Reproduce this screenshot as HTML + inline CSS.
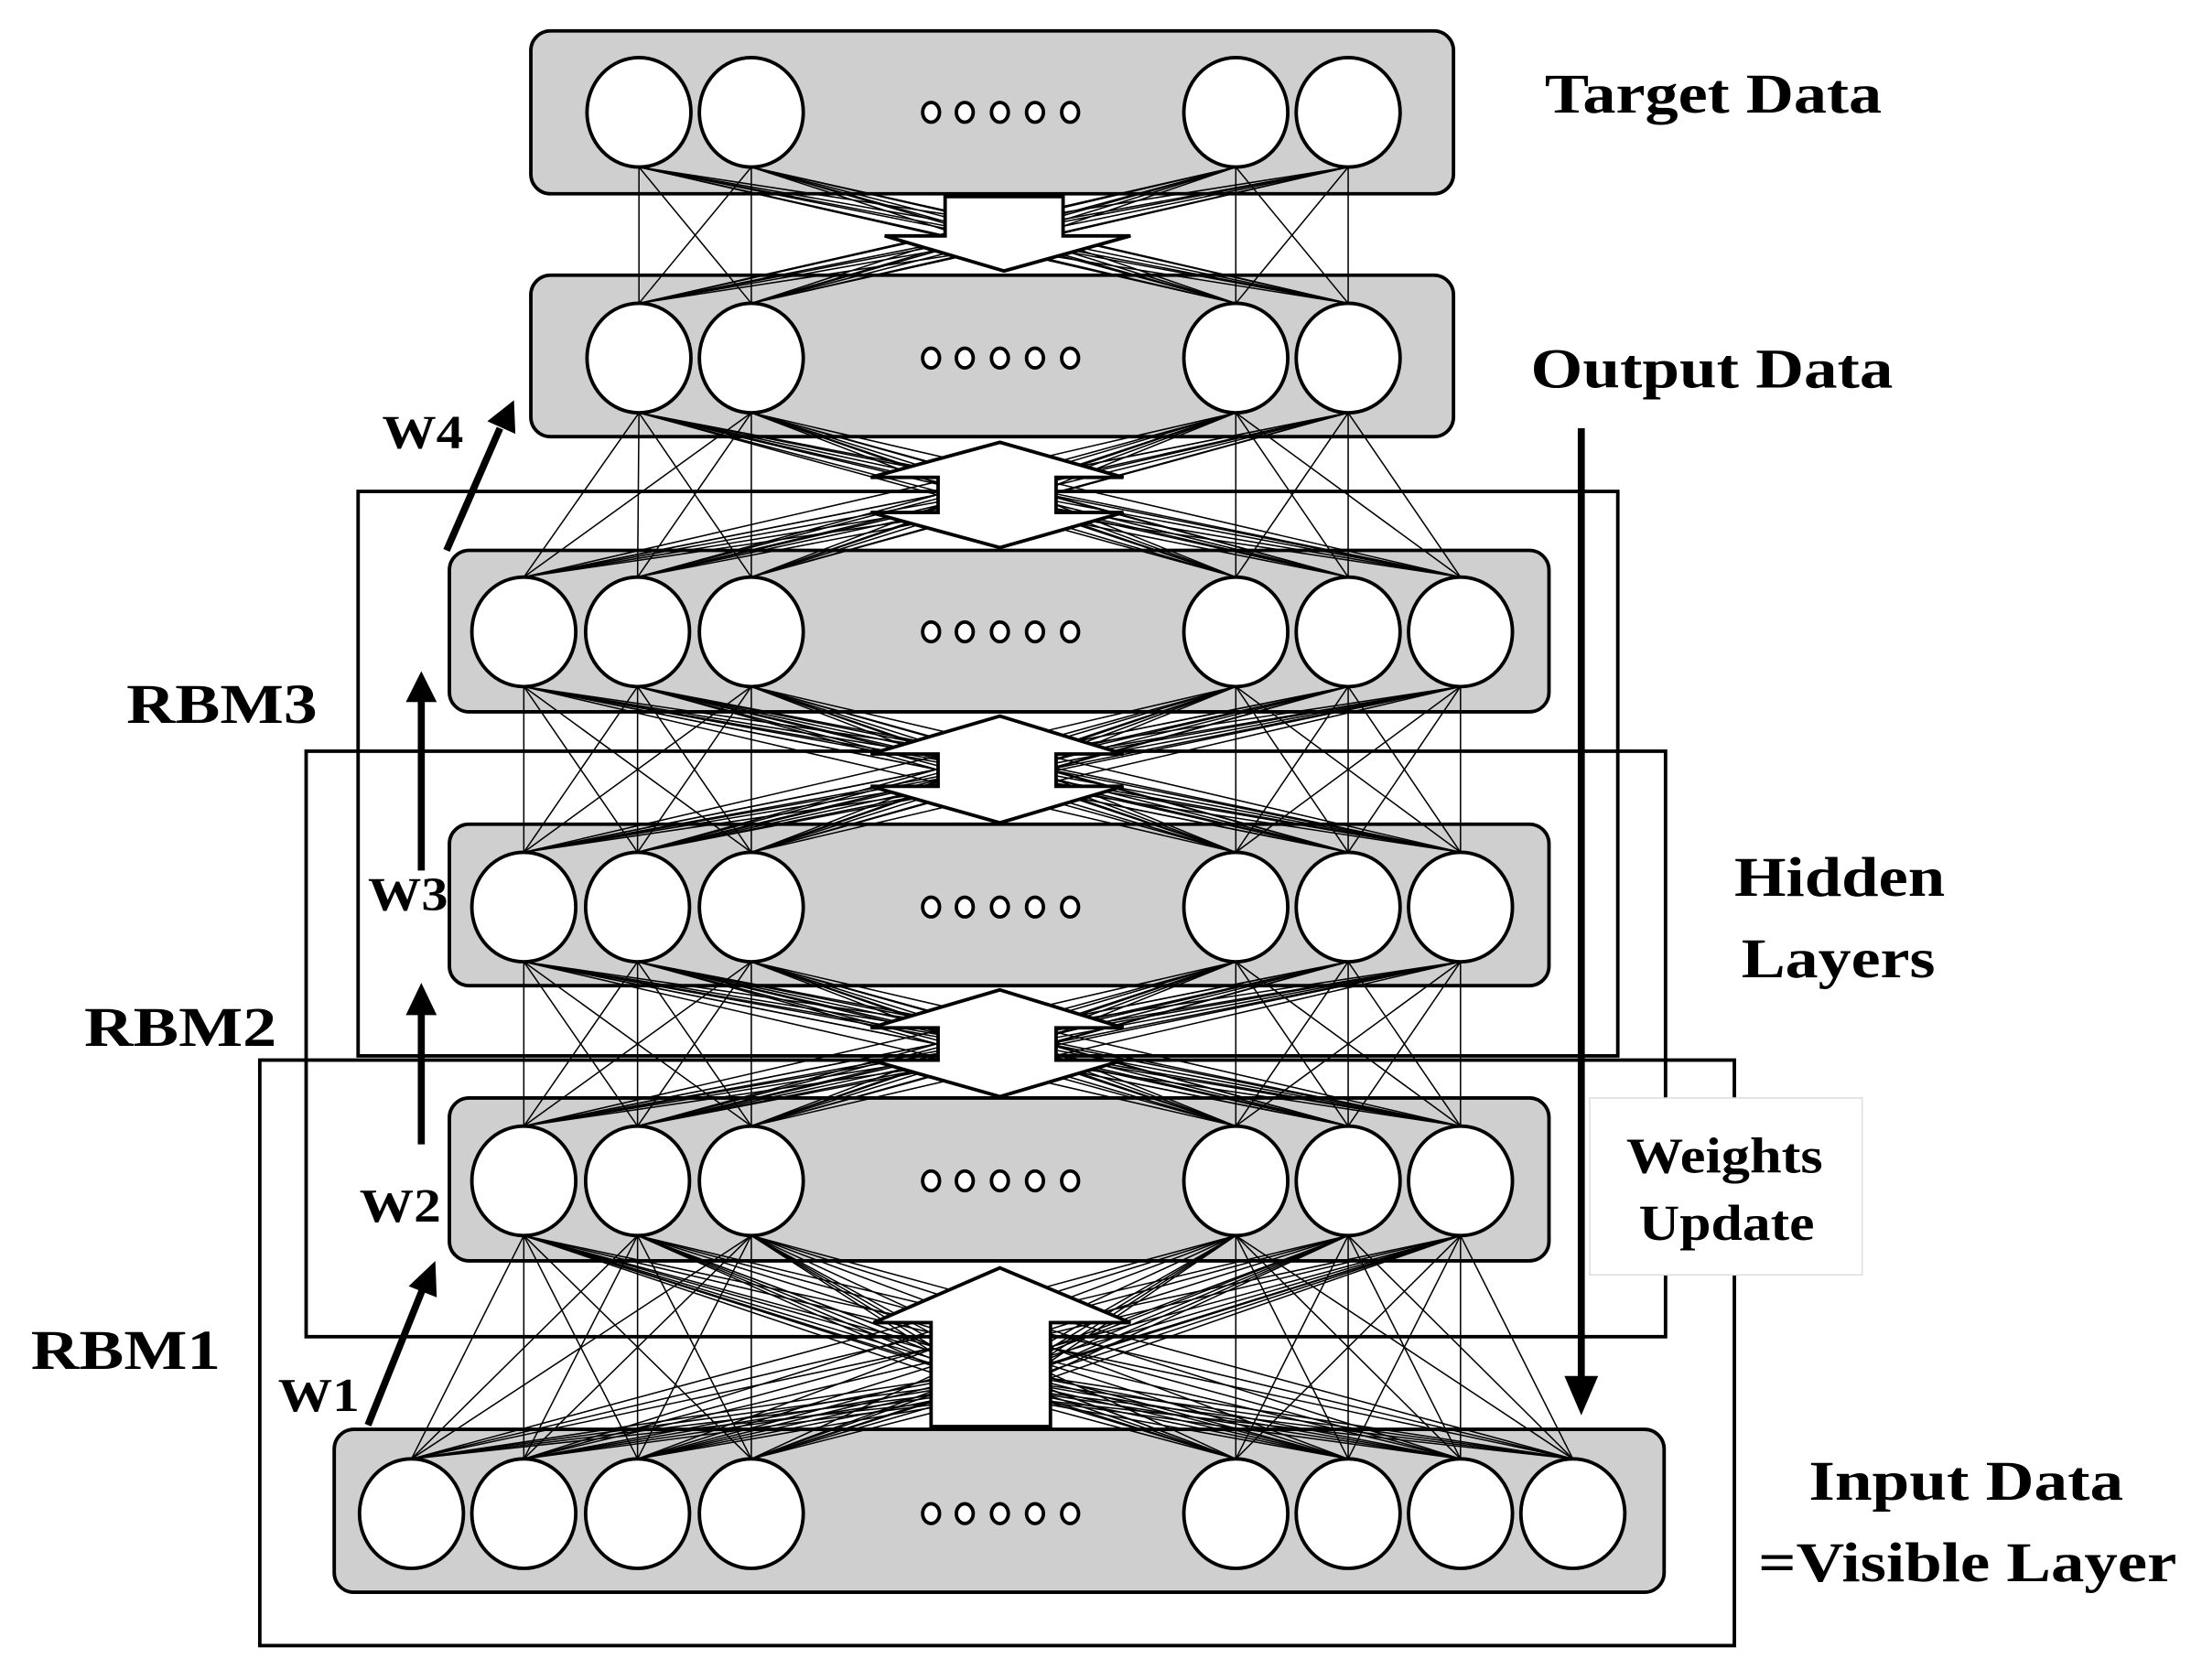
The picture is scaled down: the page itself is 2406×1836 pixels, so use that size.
<!DOCTYPE html>
<html><head><meta charset="utf-8"><style>
html,body{margin:0;padding:0;background:#fff;width:2406px;height:1836px;overflow:hidden}
svg{display:block}
text{font-family:"Liberation Serif",serif;font-weight:bold;fill:#000}
</style></head><body>
<svg id="s" width="2406" height="1836" viewBox="0 0 1568 1196.5" preserveAspectRatio="none" xmlns="http://www.w3.org/2000/svg">
<g id="boxes" fill="#d0cfd0" stroke="#000" stroke-width="2.5">
<rect x="378" y="22" width="657" height="116" rx="14"/>
<rect x="378" y="196" width="657" height="115" rx="14"/>
<rect x="320" y="392" width="783" height="115" rx="14"/>
<rect x="320" y="587" width="783" height="115" rx="14"/>
<rect x="320" y="782" width="783" height="116" rx="14"/>
<rect x="238" y="1018" width="947" height="116" rx="14"/>
</g>
<g id="lines" stroke="#000" stroke-width="1"></g>
<g fill="none" stroke="#000" stroke-width="2.5">
<rect x="255" y="350" width="897" height="402"/>
<rect x="218" y="535" width="968" height="417"/>
<rect x="185" y="755" width="1050" height="417"/>
</g>
<g fill="#fff" stroke="#000" stroke-width="2.5" stroke-linejoin="miter">
<polygon points="673,140 757,140 757,168 805,168 715,193 630,168 673,168"/>
<polygon points="712,315 800,340 752,340 752,365 800,365 712,390 620,365 668,365 668,340 620,340"/>
<polygon points="712,510 800,537 752,537 752,560 800,560 712,586 620,560 668,560 668,537 620,537"/>
<polygon points="712,705 800,732 752,732 752,755 800,755 712,781 620,755 668,755 668,732 620,732"/>
<polygon points="712,903 805,942 748,942 748,1016 663,1016 663,942 622,942"/>
</g>
<g id="nodes" fill="#fff" stroke="#000" stroke-width="2.5"></g>
<rect x="1132" y="782" width="194" height="126" fill="#fff" stroke="#ddd" stroke-width="1"/>
<g stroke="#000" stroke-width="5" fill="#000">
<line x1="1126" y1="305" x2="1126" y2="985"/>
<polygon points="1114,980 1138,980 1126,1008" stroke="none"/>
<line x1="318" y1="392" x2="356" y2="305"/>
<polygon points="347,300 366,285 367,309" stroke="none"/>
<line x1="300" y1="620" x2="300" y2="495"/>
<polygon points="289,500 311,500 300,478" stroke="none"/>
<line x1="300" y1="815" x2="300" y2="718"/>
<polygon points="289,723 311,723 300,700" stroke="none"/>
<line x1="262" y1="1015" x2="301" y2="918"/>
<polygon points="291,916 311,924 310,898" stroke="none"/>
</g>
<g font-size="40">
<text x="1100" y="80" textLength="240" lengthAdjust="spacingAndGlyphs">Target Data</text>
<text x="1090" y="276" textLength="258" lengthAdjust="spacingAndGlyphs">Output Data</text>
<text x="1235" y="638" textLength="150" lengthAdjust="spacingAndGlyphs">Hidden</text>
<text x="1240" y="696" textLength="138" lengthAdjust="spacingAndGlyphs">Layers</text>
<text x="1288" y="1068" textLength="224" lengthAdjust="spacingAndGlyphs">Input Data</text>
<text x="1252" y="1126" textLength="298" lengthAdjust="spacingAndGlyphs">=Visible Layer</text>
<text x="90" y="515" textLength="136" lengthAdjust="spacingAndGlyphs">RBM3</text>
<text x="60" y="745" textLength="137" lengthAdjust="spacingAndGlyphs">RBM2</text>
<text x="22" y="975" textLength="135" lengthAdjust="spacingAndGlyphs">RBM1</text>
</g>
<text x="1158" y="835" font-size="36" textLength="140" lengthAdjust="spacingAndGlyphs">Weights</text>
<text x="1167" y="883" font-size="36" textLength="125" lengthAdjust="spacingAndGlyphs">Update</text>
<text x="272" y="319" font-size="34" textLength="58" lengthAdjust="spacingAndGlyphs">W4</text>
<text x="262" y="648" font-size="34" textLength="57" lengthAdjust="spacingAndGlyphs">W3</text>
<text x="256" y="870" font-size="34" textLength="58" lengthAdjust="spacingAndGlyphs">W2</text>
<text x="198" y="1005" font-size="34" textLength="58" lengthAdjust="spacingAndGlyphs">W1</text>
</svg>
<script>
var L=[
 {y:80,x:[455,535,880,960]},
 {y:255,x:[455,535,880,960]},
 {y:450,x:[373,454,535,880,960,1040]},
 {y:646,x:[373,454,535,880,960,1040]},
 {y:841,x:[373,454,535,880,960,1040]},
 {y:1078,x:[293,373,454,535,880,960,1040,1120]}];
var D=[663,687,712,737,762];
var NS="http://www.w3.org/2000/svg",lg=document.getElementById('lines'),ng=document.getElementById('nodes');
function el(t,a,p){var e=document.createElementNS(NS,t);for(var k in a)e.setAttribute(k,a[k]);p.appendChild(e);}
for(var i=0;i<L.length-1;i++){var a=L[i],b=L[i+1];
 var ym=(a.y+39+b.y-39)/2; if(i==L.length-2) ym=985;
 a.x.forEach(function(x1){b.x.forEach(function(x2){el('line',{x1:x1,y1:a.y+39,x2:x2,y2:b.y-39},lg);});});
 [-9,-3,3,9].forEach(function(o){
  a.x.forEach(function(x1){el('line',{x1:x1,y1:a.y+39,x2:712,y2:ym+o},lg);});
  b.x.forEach(function(x2){el('line',{x1:x2,y1:b.y-39,x2:712,y2:ym+o},lg);});
 });
}
L.forEach(function(l){l.x.forEach(function(x){el('ellipse',{cx:x,cy:l.y,rx:37,ry:39},ng);});
 D.forEach(function(x){el('ellipse',{cx:x,cy:l.y,rx:6,ry:7,'stroke-width':2.5},ng);});});
</script>
</body></html>
